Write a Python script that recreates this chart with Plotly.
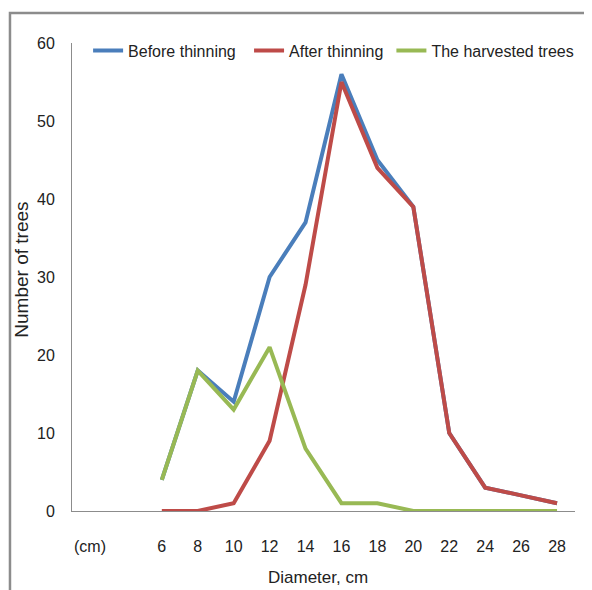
import plotly.graph_objects as go

diameters = [6, 8, 10, 12, 14, 16, 18, 20, 22, 24, 26, 28]
before_thinning = [4, 18, 14, 30, 37, 56, 45, 39, 10, 3, 2, 1]
after_thinning = [0, 0, 1, 9, 29, 55, 44, 39, 10, 3, 2, 1]
harvested = [4, 18, 13, 21, 8, 1, 1, 0, 0, 0, 0, 0]
tick_vals = [2] + diameters
tick_text = ["(cm)"] + [str(d) for d in diameters]
y_ticks = [0, 10, 20, 30, 40, 50, 60]

FONT = "Liberation Sans, Arial, sans-serif"
FS = 16
TXT = "#222222"

fig = go.Figure()
fig.add_trace(go.Scatter(x=diameters, y=before_thinning, mode="lines", name="Before thinning",
                         line=dict(color="#4A7EBB", width=4), legend="legend"))
fig.add_trace(go.Scatter(x=diameters, y=after_thinning, mode="lines", name="After thinning",
                         line=dict(color="#BE4B48", width=4), legend="legend2"))
fig.add_trace(go.Scatter(x=diameters, y=harvested, mode="lines", name="The harvested trees",
                         line=dict(color="#98B954", width=4), legend="legend3"))

leg_common = dict(orientation="h", xanchor="left", y=1.02, yanchor="top",
                  font=dict(family=FONT, size=FS, color=TXT),
                  bgcolor="rgba(0,0,0,0)", itemwidth=30)

# page body has an 8px margin, so the figure is offset by 8px; compensate here
fig.update_layout(
    width=584, height=582,
    margin=dict(l=64, r=17, t=35, b=79, autoexpand=False),
    paper_bgcolor="white", plot_bgcolor="white",
    font=dict(family=FONT, size=FS, color=TXT),
    showlegend=True,
    legend=dict(x=0.032, **leg_common),
    legend2=dict(x=0.352, **leg_common),
    legend3=dict(x=0.635, **leg_common),
    xaxis=dict(range=[1, 29], tickvals=tick_vals, ticktext=tick_text,
               showgrid=False, zeroline=False, showline=True, linecolor="#8C8C8C", linewidth=1,
               ticks="", ticklabelstandoff=21),
    yaxis=dict(range=[0, 60], tickvals=y_ticks, showgrid=False, zeroline=False,
               showline=True, linecolor="#8C8C8C", linewidth=1, ticks="", ticklabelstandoff=13),
    annotations=[
        dict(text="Diameter, cm", xref="paper", yref="paper", x=0.49, y=-0.142,
             xanchor="center", yanchor="middle", showarrow=False,
             font=dict(family=FONT, size=17, color=TXT)),
        dict(text="Number of trees", xref="paper", yref="paper", x=-0.1, y=0.515,
             xanchor="center", yanchor="middle", textangle=-90, showarrow=False,
             font=dict(family=FONT, size=19, color=TXT)),
    ],
    shapes=[
        dict(type="rect", xref="paper", yref="paper", x0=-0.1233, x1=1.2, y0=-0.3, y1=1.064,
             line=dict(color="#8C8C8C", width=2.5), fillcolor="rgba(0,0,0,0)", layer="below"),
    ],
)

fig.write_html("out.html")
